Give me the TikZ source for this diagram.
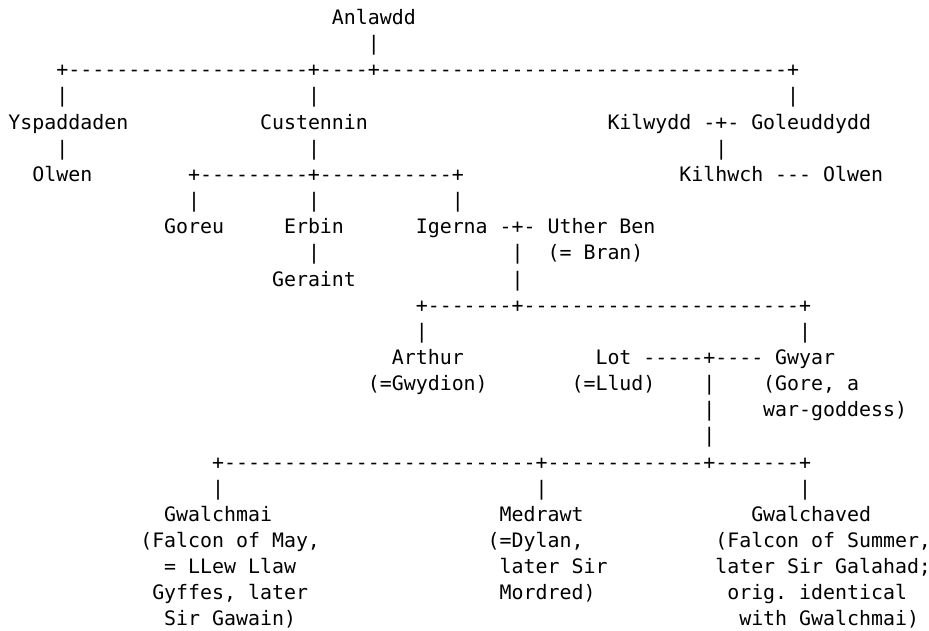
\documentclass[tikz,border=0pt]{standalone}
\usepackage{fontspec}
\setmonofont{DejaVu Sans Mono}
\usetikzlibrary{positioning}

\tikzset{
  txt/.style={font=\ttfamily\fontsize{19.9pt}{26pt}\selectfont, anchor=base west, inner sep=0pt, outer sep=0pt},
  lnk/.style={txt}
}

\begin{document}
\begin{tikzpicture}[x=11.98pt, y=-26.15pt]
\useasboundingbox (-8.5pt,24.5pt) rectangle (920.5pt,-605.5pt);

\node[txt](Anlawdd) at (27,0) {Anlawdd};
\node[lnk](L1) at (30,1) {|};
\node[lnk](L2) at (4,2) {+--------------------+----+----------------------------------+};
\node[lnk](L3a) at (4,3) {|};
\node[lnk](L3b) at (25,3) {|};
\node[lnk](L3c) at (65,3) {|};

\node[txt](Yspaddaden) at (0,4) {Yspaddaden};
\node[txt](Custennin) at (21,4) {Custennin};
\node[txt](Kilwydd) at (50,4) {Kilwydd};
\node[lnk](L4) at (58,4) {-+-};
\node[txt](Goleuddydd) at (62,4) {Goleuddydd};

\node[lnk](L5a) at (4,5) {|};
\node[lnk](L5b) at (25,5) {|};
\node[lnk](L5c) at (59,5) {|};

\node[txt](OlwenA) at (2,6) {Olwen};
\node[lnk](L6) at (15,6) {+---------+-----------+};
\node[txt](Kilhwch) at (56,6) {Kilhwch};
\node[lnk](L6a) at (64,6) {---};
\node[txt](OlwenB) at (68,6) {Olwen};

\node[lnk](L7a) at (15,7) {|};
\node[lnk](L7b) at (25,7) {|};
\node[lnk](L7c) at (37,7) {|};

\node[txt](Goreu) at (13,8) {Goreu};
\node[txt](Erbin) at (23,8) {Erbin};
\node[txt](Igerna) at (34,8) {Igerna};
\node[lnk](L8) at (41,8) {-+-};
\node[txt](Uther) at (45,8) {Uther Ben};

\node[lnk](L9a) at (25,9) {|};
\node[lnk](L9b) at (42,9) {|};
\node[txt](Uther2) at (45,9) {(= Bran)};

\node[txt](Geraint) at (22,10) {Geraint};
\node[lnk](L10) at (42,10) {|};

\node[lnk](L11) at (34,11) {+-------+-----------------------+};
\node[lnk](L12a) at (34,12) {|};
\node[lnk](L12b) at (66,12) {|};

\node[txt](Arthur) at (32,13) {Arthur};
\node[txt](Lot) at (49,13) {Lot};
\node[lnk](L13) at (53,13) {-----+----};
\node[txt](Gwyar) at (64,13) {Gwyar};

\node[txt](Arthur2) at (30,14) {(=Gwydion)};
\node[txt](Lot2) at (47,14) {(=Llud)};
\node[lnk](L14) at (58,14) {|};
\node[txt](Gwyar2) at (63,14) {(Gore, a};

\node[lnk](L15) at (58,15) {|};
\node[txt](Gwyar3) at (63,15) {war-goddess)};
\node[lnk](L16) at (58,16) {|};

\node[lnk](L17) at (17,17) {+--------------------------+-------------+-------+};
\node[lnk](L18a) at (17,18) {|};
\node[lnk](L18b) at (44,18) {|};
\node[lnk](L18c) at (66,18) {|};

\node[txt](Gwalchmai) at (13,19) {Gwalchmai};
\node[txt](Medrawt) at (41,19) {Medrawt};
\node[txt](Gwalchaved) at (62,19) {Gwalchaved};

\node[txt](Gwalchmai2) at (11,20) {(Falcon of May,};
\node[txt](Gwalchmai3) at (13,21) {= LLew Llaw};
\node[txt](Gwalchmai4) at (12,22) {Gyffes, later};
\node[txt](Gwalchmai5) at (13,23) {Sir Gawain)};

\node[txt](Medrawt2) at (40,20) {(=Dylan,};
\node[txt](Medrawt3) at (41,21) {later Sir};
\node[txt](Medrawt4) at (41,22) {Mordred)};

\node[txt](Gwalchaved2) at (59,20) {(Falcon of Summer,};
\node[txt](Gwalchaved3) at (59,21) {later Sir Galahad;};
\node[txt](Gwalchaved4) at (60,22) {orig. identical};
\node[txt](Gwalchaved5) at (61,23) {with Gwalchmai)};
\end{tikzpicture}
\end{document}
